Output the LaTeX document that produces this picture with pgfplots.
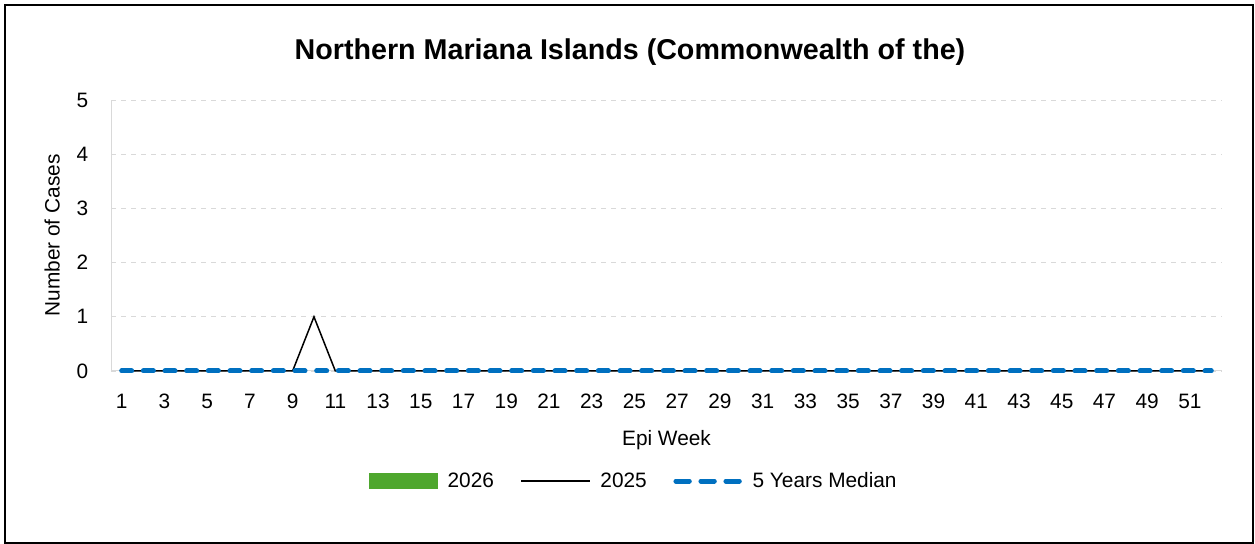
\documentclass[border=0pt]{standalone}
\usepackage{pgfplots}
\pgfplotsset{compat=1.18}
\usepackage{fontspec}
\setmainfont{Liberation Sans}
\definecolor{medblue}{HTML}{0070C0}
\definecolor{grn}{HTML}{4EA72E}
\definecolor{gridg}{HTML}{D9D9D9}
\begin{document}
\begin{tikzpicture}
\path[use as bounding box] (0,0) rectangle (753pt,326.4pt);
\draw[black, line width=1.3pt] (3pt,0.6pt) rectangle (751.8pt,323.4pt);
\node[font=\bfseries\fontsize{17.2}{20}\selectfont, anchor=center] at (378pt,295.2pt) {Northern Mariana Islands (Commonwealth of the)};
\begin{axis}[
  at={(66.6pt,103.8pt)}, anchor=south west,
  scale only axis, width=666.6pt, height=162.6pt,
  xmin=0.5, xmax=52.5, ymin=0, ymax=5,
  xtick={1,3,...,51}, ytick={0,1,2,3,4,5},
  major tick length=0pt,
  axis x line*=bottom, axis y line*=left,
  axis line style={gridg, line width=0.6pt},
  x axis line style={-}, y axis line style={-},
  ymajorgrids, grid style={gridg, dashed, line width=0.5pt},
  /pgf/number format/assume math mode=true,
  ticklabel style={font=\fontsize{12.5}{14}\selectfont},
  xticklabel style={anchor=base, yshift=-22.5pt},
  yticklabel style={anchor=east, inner sep=0pt, xshift=-13.5pt},
  xlabel={Epi Week}, ylabel={Number of Cases},
  label style={font=\fontsize{12.5}{14}\selectfont},
  xlabel style={at={(axis description cs:0.5,-0.255)}, anchor=center},
  ylabel style={at={(axis description cs:-0.053,0.5)}, anchor=center},
  legend style={draw=none, at={(0.471,-0.406)}, anchor=center, legend columns=3,
    font=\fontsize{12.5}{14}\selectfont,
    /tikz/every odd column/.append style={column sep=4pt},
    /tikz/every even column/.append style={column sep=14pt}},
  clip=false,
]
\addlegendimage{legend image code/.code={\fill[grn] (0pt,-4.5pt) rectangle (41pt,4.5pt);}}
\addlegendentry{2026}
\addplot[black, line width=0.9pt, mark=none,
  legend image code/.code={\draw[black, line width=0.9pt] (0pt,0pt) -- (41pt,0pt);}]
  coordinates {(1,0)(2,0)(3,0)(4,0)(5,0)(6,0)(7,0)(8,0)(9,0)(10,1)(11,0)(12,0)(13,0)(14,0)(15,0)(16,0)(17,0)(18,0)(19,0)(20,0)(21,0)(22,0)(23,0)(24,0)(25,0)(26,0)(27,0)(28,0)(29,0)(30,0)(31,0)(32,0)(33,0)(34,0)(35,0)(36,0)(37,0)(38,0)(39,0)(40,0)(41,0)(42,0)(43,0)(44,0)(45,0)(46,0)(47,0)(48,0)(49,0)(50,0)(51,0)(52,0)};
\addlegendentry{2025}
\addplot[medblue, line width=3pt, line cap=round, dash pattern=on 6pt off 7pt, mark=none,
  legend image code/.code={\draw[medblue, line width=3pt, line cap=round, dash pattern=on 8pt off 7pt] (1.5pt,0pt) -- (40pt,0pt);}]
  coordinates {(1,0)(2,0)(3,0)(4,0)(5,0)(6,0)(7,0)(8,0)(9,0)(10,0)(11,0)(12,0)(13,0)(14,0)(15,0)(16,0)(17,0)(18,0)(19,0)(20,0)(21,0)(22,0)(23,0)(24,0)(25,0)(26,0)(27,0)(28,0)(29,0)(30,0)(31,0)(32,0)(33,0)(34,0)(35,0)(36,0)(37,0)(38,0)(39,0)(40,0)(41,0)(42,0)(43,0)(44,0)(45,0)(46,0)(47,0)(48,0)(49,0)(50,0)(51,0)(52,0)};
\addlegendentry{5 Years Median}
\end{axis}
\end{tikzpicture}
\end{document}
